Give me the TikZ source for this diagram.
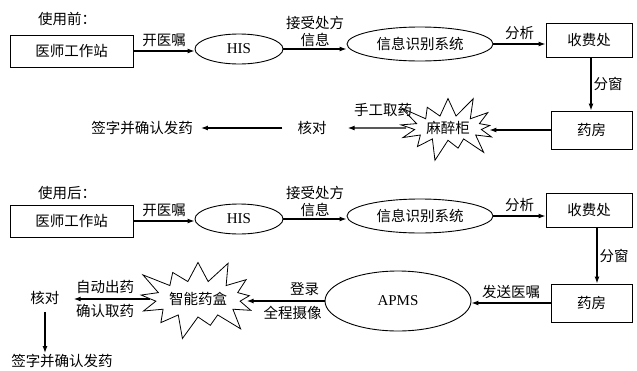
\documentclass[tikz,border=0pt]{standalone}
\usepackage{fontspec}
\setmainfont{Liberation Serif}
\newfontfamily\cjk{Noto Sans CJK SC}
\usetikzlibrary{shapes.geometric,shapes.symbols,arrows.meta}
\begin{document}
\begin{tikzpicture}[x=1pt,y=-1pt,
  every node/.style={font=\cjk\fontsize{14.5}{17}\selectfont, text=black},
  box/.style={draw, line width=0.9pt, rectangle, inner sep=0pt},
  oval/.style={draw, ellipse, line width=0.9pt, inner sep=0pt},
  burst/.style={draw, starburst, starburst points=13, line width=0.8pt, fill=white},
  arr/.style={line width=1.3pt, -{Latex[length=7pt,width=5pt]}},
  txt/.style={inner sep=1pt},
  lat/.style={font=\rmfamily\fontsize{15}{17}\selectfont}
]
\path[use as bounding box] (0,0) rectangle (637,370);

% ---------- before ----------
\node[txt] (pre) at (67,19) {使用前：};
\node[box, minimum width=123pt, minimum height=32pt] (w1) at (71.5,51) {医师工作站};
\node[oval, lat, minimum width=88pt, minimum height=30pt] (his1) at (239,49) {HIS};
\node[oval, minimum width=146pt, minimum height=34pt] (sys1) at (420,44) {信息识别系统};
\node[box, minimum width=86pt, minimum height=34pt] (fee1) at (589,40) {收费处};
\node[box, minimum width=81pt, minimum height=38pt] (ph1) at (591.5,130) {药房};
\node[burst, inner xsep=2pt, inner ysep=2pt, starburst point height=24pt] (cab1) at (448,128) {麻醉柜};
\node[txt] (chk1) at (312,128) {核对};
\node[txt] (sig1) at (142,128) {签字并确认发药};

\draw[arr] (w1.east) -- (his1.west |- w1.east) node[midway, above] {开医嘱};
\draw[arr] (his1.east) -- (sys1.west |- his1.east) node[midway, above, align=center, inner sep=2pt] {接受处方\\信息};
\draw[arr] (sys1.east) -- (fee1.west |- sys1.east) node[midway, above] {分析};
\draw[arr] ([xshift=2pt]fee1.south) -- ([xshift=2pt]fee1.south |- ph1.north) node[midway, right, inner sep=2pt] {分窗};
\draw[arr, shorten >=4pt] (ph1.west) -- (cab1.east |- ph1.west);
\draw[arr, shorten <=3pt, shorten >=20pt] (cab1.west) -- (chk1.east);
\node[txt] (l1) at (383,110) {手工取药};
\draw[arr, shorten <=14pt, shorten >=7pt] (chk1.west) -- (sig1.east);

% ---------- after ----------
\node[txt] (post) at (67,193) {使用后：};
\node[box, minimum width=123pt, minimum height=32pt] (w2) at (71.5,221) {医师工作站};
\node[oval, lat, minimum width=88pt, minimum height=30pt] (his2) at (239,219) {HIS};
\node[oval, minimum width=146pt, minimum height=34pt] (sys2) at (420,216) {信息识别系统};
\node[box, minimum width=86pt, minimum height=34pt] (fee2) at (589,210) {收费处};
\node[box, minimum width=81pt, minimum height=38pt] (ph2) at (591.5,303) {药房};
\node[oval, lat, minimum width=146pt, minimum height=60pt] (apms) at (398,301) {APMS};
\node[burst, inner xsep=1pt, inner ysep=6pt, starburst point height=26pt] (box2) at (198,299) {智能药盒};
\node[txt] (chk2) at (45,298) {核对};
\node[txt] (sig2) at (62,361) {签字并确认发药};

\draw[arr] (w2.east) -- (his2.west |- w2.east) node[midway, above] {开医嘱};
\draw[arr] (his2.east) -- (sys2.west |- his2.east) node[midway, above, align=center, inner sep=2pt] {接受处方\\信息};
\draw[arr] (sys2.east) -- (fee2.west |- sys2.east) node[midway, above] {分析};
\draw[arr] ([xshift=8pt]fee2.south) -- ([xshift=8pt]fee2.south |- ph2.north) node[midway, right, inner sep=2pt] {分窗};
\draw[arr] (ph2.west) -- (apms.east |- ph2.west) node[midway, above, inner sep=4pt] {发送医嘱};
\draw[arr, shorten >=2pt] (apms.west) -- (box2.east |- apms.west)
  node[pos=0.25, above, inner sep=5pt] {登录}
  node[pos=0.4, below, inner sep=5pt] {全程摄像};
\draw[arr, shorten >=13pt] (box2.west) -- (chk2.east |- box2.west)
  node[midway, above, inner sep=5pt] {自动出药}
  node[midway, below, inner sep=5pt] {确认取药};
\draw[arr, shorten <=6pt] (chk2.south) -- (chk2.south |- sig2.north);
\end{tikzpicture}
\end{document}
